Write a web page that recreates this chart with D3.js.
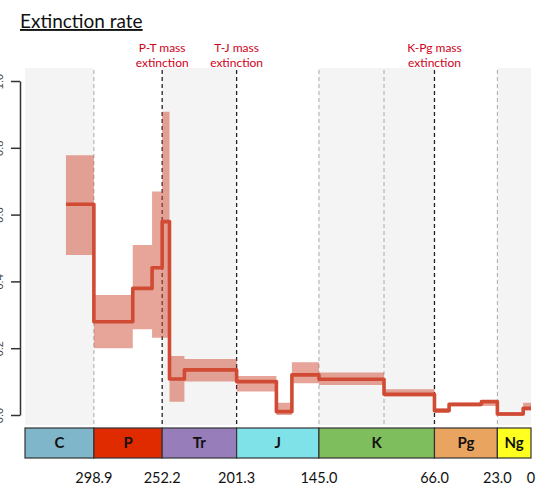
<!DOCTYPE html><html><head><meta charset="UTF-8"><script src="https://d3js.org/d3.v7.min.js"></script><style>
            body { margin: 0; background: #fff; }
            #chart { width: 547px; height: 489px; font-family: Lato, "Open Sans", sans-serif; }
        </style></head><body><div id="chart"></div><script>
            // stage intervals (Ma) and extinction rate with band
            const stageStart = [318, 298.9, 272.3, 259.1, 252.2, 247.2, 237, 201.3, 174.1, 163.5, 145, 100.5, 66, 56, 33.9, 23, 5.33];
            const stageEnd   = [298.9, 272.3, 259.1, 252.2, 247.2, 237, 201.3, 174.1, 163.5, 145, 100.5, 66, 56, 33.9, 23, 5.33, 0];
            const rate   = [0.631, 0.279, 0.379, 0.441, 0.579, 0.108, 0.135, 0.100, 0.010, 0.120, 0.107, 0.062, 0.013, 0.032, 0.040, 0.003, 0.020];
            const rateHi = [0.778, 0.359, 0.509, 0.669, 0.908, 0.177, 0.168, 0.117, 0.037, 0.158, 0.127, 0.077, 0.021, 0.037, 0.045, 0.009, 0.037];
            const rateLo = [0.479, 0.200, 0.257, 0.231, 0.231, 0.040, 0.100, 0.070, 0.000, 0.095, 0.090, 0.055, 0.006, 0.025, 0.027, -0.003, 0.013];

            const periods     = ['C', 'P', 'Tr', 'J', 'K', 'Pg', 'Ng'];
            const periodStart = [346, 298.9, 252.2, 201.3, 145, 66, 23];
            const periodEnd   = [298.9, 252.2, 201.3, 145, 66, 23, 0];
            const periodColor = ['#7fb6ca', '#e02a00', '#977db9', '#80e2e9', '#7fbe5c', '#e9a55f', '#ffff20'];

            const tickValues = [298.9, 252.2, 201.3, 145, 66, 23, 0];
            const tickLabels = ['298.9', '252.2', '201.3', '145.0', '66.0', '23.0', '0'];
            const yTicks = [0, 0.2, 0.4, 0.6, 0.8, 1.0];

            const minorLines = [298.9, 145, 100.5, 23];
            const massEvents = [252.2, 201.3, 66];
            const massLabels = [['P-T mass', 'extinction'], ['T-J mass', 'extinction'], ['K-Pg mass', 'extinction']];

            const plotTop = 68, plotBottom = 425;
            const barTop = 428, barH = 30;

            const svg = d3.select('#chart')
                .append('svg')
                .attr('width', 547)
                .attr('height', 489);

            const x = d3.scaleLinear().domain([346, 0]).range([25, 531]);
            const y = d3.scaleLinear().domain([0, 1]).range([415, 81]);

            // alternating background bands
            svg.append('g')
                .selectAll('rect')
                .data(periods.filter((d, i) => i % 2 === 0).map(p => periods.indexOf(p)))
                .enter().append('rect')
                .attr('x', i => x(periodStart[i]))
                .attr('y', plotTop)
                .attr('width', i => x(periodEnd[i]) - x(periodStart[i]))
                .attr('height', plotBottom - plotTop)
                .attr('fill', '#f4f4f4');

            // stage boundary lines
            svg.append('g')
                .selectAll('line')
                .data(minorLines)
                .enter().append('line')
                .attr('x1', d => x(d)).attr('x2', d => x(d))
                .attr('y1', 70).attr('y2', plotBottom)
                .attr('stroke', '#aaa')
                .attr('stroke-width', 1)
                .attr('stroke-dasharray', '4,3');

            svg.append('g')
                .selectAll('line')
                .data(massEvents)
                .enter().append('line')
                .attr('x1', d => x(d)).attr('x2', d => x(d))
                .attr('y1', 70).attr('y2', plotBottom)
                .attr('stroke', '#222')
                .attr('stroke-width', 1.3)
                .attr('stroke-dasharray', '4,3');

            // step points
            const pts = [];
            stageStart.forEach((s, i) => {
                pts.push({t: s, v: rate[i], lo: rateLo[i], hi: rateHi[i]});
                pts.push({t: stageEnd[i], v: rate[i], lo: rateLo[i], hi: rateHi[i]});
            });

            const area = d3.area()
                .x(d => x(d.t))
                .y0(d => y(d.lo))
                .y1(d => y(d.hi));

            svg.append('path')
                .datum(pts)
                .attr('d', area)
                .attr('fill', '#d04a34')
                .attr('fill-opacity', 0.5);

            const line = d3.line()
                .x(d => x(d.t))
                .y(d => y(d.v));

            svg.append('path')
                .datum(pts)
                .attr('d', line)
                .attr('fill', 'none')
                .attr('stroke', '#d04a34')
                .attr('stroke-width', 3.6)
                .attr('stroke-linejoin', 'round');

            // y axis, labels mostly cut off at the left edge as in the source
            const yAxis = svg.append('g')
                .attr('transform', 'translate(20,0)')
                .call(d3.axisLeft(y).tickValues(yTicks).tickSize(9).tickSizeOuter(0).tickFormat(d3.format('.1f')));
            yAxis.select('.domain').attr('stroke', '#333').attr('stroke-width', 1.5);
            yAxis.selectAll('.tick line').attr('stroke', '#333').attr('stroke-width', 1.5);
            yAxis.selectAll('.tick text')
                .attr('x', 0).attr('dy', 0)
                .attr('transform', 'translate(-17,0) rotate(-90)')
                .attr('text-anchor', 'middle')
                .attr('fill', '#444')
                .style('font-size', '11px');

            // mass extinction labels
            const ann = svg.append('g')
                .selectAll('text')
                .data(massEvents)
                .enter().append('text')
                .attr('text-anchor', 'middle')
                .attr('fill', '#d0021b')
                .style('font-size', '12px');
            ann.append('tspan')
                .attr('x', d => x(d)).attr('y', 52)
                .text((d, i) => massLabels[i][0]);
            ann.append('tspan')
                .attr('x', d => x(d)).attr('y', 67)
                .text((d, i) => massLabels[i][1]);

            // geologic time bar
            const bar = svg.append('g')
                .selectAll('g')
                .data(periods)
                .enter().append('g');
            bar.append('rect')
                .attr('x', (d, i) => x(periodStart[i]))
                .attr('y', barTop)
                .attr('width', (d, i) => x(periodEnd[i]) - x(periodStart[i]))
                .attr('height', barH)
                .attr('fill', (d, i) => periodColor[i])
                .attr('stroke', '#333')
                .attr('stroke-width', 1.2);
            bar.append('text')
                .attr('x', (d, i) => (x(periodStart[i]) + x(periodEnd[i])) / 2)
                .attr('y', barTop + barH / 2)
                .attr('dy', '0.36em')
                .attr('text-anchor', 'middle')
                .style('font-size', '15px')
                .style('font-weight', 'bold')
                .attr('fill', '#111')
                .text(d => d);

            // bottom time labels
            svg.append('g')
                .selectAll('text')
                .data(tickValues)
                .enter().append('text')
                .attr('x', d => x(d))
                .attr('y', 483)
                .attr('text-anchor', 'middle')
                .style('font-size', '14.5px')
                .attr('fill', '#111')
                .text((d, i) => tickLabels[i]);

            // title
            svg.append('text')
                .attr('x', 20)
                .attr('y', 28)
                .style('font-size', '19px')
                .style('text-decoration', 'underline')
                .attr('fill', '#111')
                .text('Extinction rate');
        </script></body></html>
